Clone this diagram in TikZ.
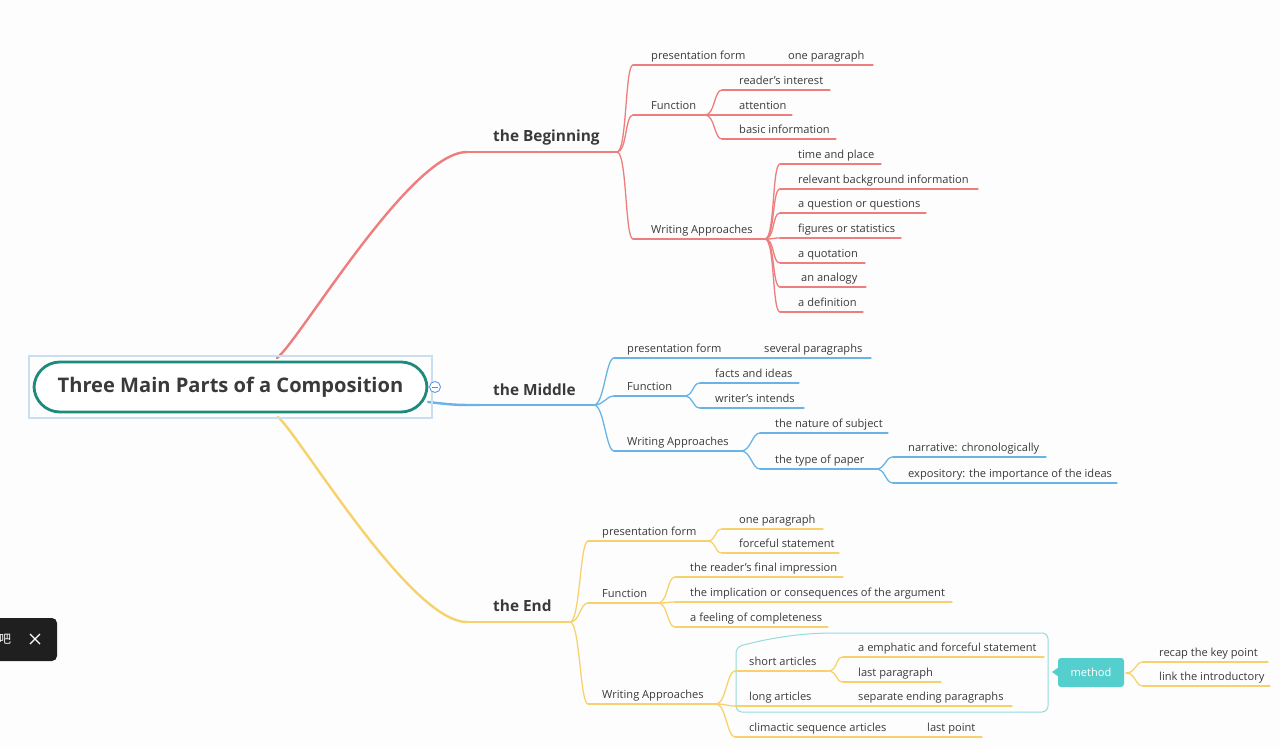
\documentclass[tikz,border=0pt]{standalone}
\usepackage{fontspec}
\setmainfont{Open Sans}
\newfontfamily\cjk{Noto Sans CJK SC}
\definecolor{cR}{HTML}{EE7D7D}
\definecolor{cB}{HTML}{68B4E6}
\definecolor{cY}{HTML}{F7D26C}
\definecolor{cT}{HTML}{1E8A7C}
\definecolor{cM}{HTML}{55CFCD}
\definecolor{cBnd}{HTML}{93DCDA}
\definecolor{cSel}{HTML}{C9DFF1}
\definecolor{cTx}{HTML}{3A3A3A}
\definecolor{cToast}{HTML}{1F1F1F}
\definecolor{cBg}{HTML}{FDFDFD}
\tikzset{
  lbl/.style={inner sep=0pt, text=cTx, font=\fontsize{11.1}{13}\selectfont},
  brl/.style={inner sep=0pt, text=cTx, font=\fontsize{15.4}{17}\selectfont\bfseries},
  sub/.style={line width=1.3pt, line cap=round},
  mainbr/.style={line width=2.4pt, line cap=round},
  rootbox/.style={draw=cT, line width=2.8pt, fill=white, rounded corners=26pt,
    minimum width=393pt, minimum height=50pt, inner sep=0pt,
    text=cTx, font=\fontsize{20.1}{24}\selectfont\bfseries},
  methodbox/.style={fill=cM, rounded corners=3pt, minimum width=66pt, minimum height=29pt,
    inner sep=0pt, text=white, font=\fontsize{11.1}{13}\selectfont},
}
\newcommand\tp[7]{%
  \coordinate (#1-s) at (#3,#5);
  \coordinate (#1-e) at (#6,#5);
  \node[lbl,anchor=base west] (#1) at (#4,#5-5.5) {#7};
  \draw[#2,sub] (#1-s) -- (#1-e);}
\newcommand\fk[3]{\draw[#1,sub] (#2) .. controls +(10,0) and +(-8,0) .. (#3);}
\begin{document}
\begin{tikzpicture}[x=1pt,y=-1pt]
\useasboundingbox (0,0) rectangle (1280,749);
\fill[cBg] (0,0) rectangle (1280,749);

% ---------- main branches ----------
\coordinate (rtop) at (277,358);
\coordinate (rbot) at (278,417);
\coordinate (rright) at (428,402);
\coordinate (bstart) at (467,152);
\coordinate (bfork) at (617,152);
\coordinate (mstart) at (480,405);
\coordinate (mfork) at (594,405);
\coordinate (estart) at (467,622);
\coordinate (efork) at (570,622);
\draw[cR,mainbr] (rtop) .. controls (300,340) and (410,152) .. (bstart);
\draw[cR,line width=1.8pt] (bstart) -- (bfork);
\draw[cB,mainbr] (rright) .. controls (455,405) .. (mstart);
\draw[cB,line width=1.8pt] (mstart) -- (mfork);
\draw[cY,mainbr] (rbot) .. controls (300,436) and (410,622) .. (estart);
\draw[cY,line width=1.8pt] (estart) -- (efork);

\node[brl,anchor=base west] (beg) at (493,141.5) {the Beginning};
\node[brl,anchor=base west] (mid) at (493,395) {the Middle};
\node[brl,anchor=base west] (end) at (493,611.5) {the End};

% ---------- root ----------
\draw[cSel,line width=1.3pt] (29,356) rectangle (432,418);
\node[rootbox] (root) at (230.5,387) {Three Main Parts of a Composition};
\node[circle,draw=cB!80!blue,line width=0.8pt,fill=white,inner sep=0pt,minimum size=11pt] (col) at (435,387) {};
\draw[cB!80!blue,line width=0.8pt] ([xshift=-3pt]col.center) -- ([xshift=3pt]col.center);

% ---------- the Beginning ----------
\tp{bpf}{cR}{633}{651}{65}{775}{presentation form}
\tp{bop}{cR}{775}{788}{65}{873}{one paragraph}
\tp{bfn}{cR}{633}{651}{115}{705}{Function}
\tp{bri}{cR}{722}{739}{90}{830}{reader's interest}
\tp{bat}{cR}{722}{739}{115}{792}{attention}
\tp{bbi}{cR}{722}{739}{139}{836}{basic information}
\tp{bwa}{cR}{633}{651}{239}{765}{Writing Approaches}
\tp{b1}{cR}{780}{798}{164}{881}{time and place}
\tp{b2}{cR}{780}{798}{189}{978}{relevant background information}
\tp{b3}{cR}{780}{798}{213}{926}{a question or questions}
\tp{b4}{cR}{780}{798}{238}{901}{figures or statistics}
\tp{b5}{cR}{780}{798}{263}{865}{a quotation}
\tp{b6}{cR}{780}{801}{287}{866}{an analogy}
\tp{b7}{cR}{780}{798}{312}{863}{a definition}
\fk{cR}{bfork}{bpf-s}\fk{cR}{bfork}{bfn-s}\fk{cR}{bfork}{bwa-s}
\fk{cR}{bfn-e}{bri-s}\fk{cR}{bfn-e}{bat-s}\fk{cR}{bfn-e}{bbi-s}
\fk{cR}{bwa-e}{b1-s}\fk{cR}{bwa-e}{b2-s}\fk{cR}{bwa-e}{b3-s}\fk{cR}{bwa-e}{b4-s}
\fk{cR}{bwa-e}{b5-s}\fk{cR}{bwa-e}{b6-s}\fk{cR}{bwa-e}{b7-s}

% ---------- the Middle ----------
\tp{mpf}{cB}{614}{627}{358}{752}{presentation form}
\tp{msp}{cB}{752}{764}{358}{871}{several paragraphs}
\tp{mfn}{cB}{614}{627}{396}{684}{Function}
\tp{mfi}{cB}{700}{715}{383}{799}{facts and ideas}
\tp{mwi}{cB}{700}{715}{408}{804}{writer's intends}
\tp{mwa}{cB}{614}{627}{451}{741}{Writing Approaches}
\tp{mns}{cB}{760}{775}{433}{888}{the nature of subject}
\tp{mtp}{cB}{760}{775}{469}{876}{the type of paper}
\tp{mnc}{cB}{893}{908}{457}{1046}{narrative: chronologically}
\tp{mex}{cB}{893}{908}{483}{1117}{expository: the importance of the ideas}
\fk{cB}{mfork}{mpf-s}\fk{cB}{mfork}{mfn-s}\fk{cB}{mfork}{mwa-s}
\fk{cB}{mfn-e}{mfi-s}\fk{cB}{mfn-e}{mwi-s}
\fk{cB}{mwa-e}{mns-s}\fk{cB}{mwa-e}{mtp-s}
\fk{cB}{mtp-e}{mnc-s}\fk{cB}{mtp-e}{mex-s}

% ---------- the End ----------
\draw[cBnd,line width=1pt,rounded corners=6pt] (736,712) -- (736,647) .. controls (770,638) and (800,633) .. (840,633) -- (1048,633) -- (1048,712) -- cycle;
\tp{epf}{cY}{588}{602}{541}{707}{presentation form}
\tp{eop}{cY}{722}{739}{529}{823}{one paragraph}
\tp{efs}{cY}{722}{739}{553}{839}{forceful statement}
\tp{efn}{cY}{588}{602}{603}{658}{Function}
\tp{erf}{cY}{675}{690}{577}{843}{the reader's final impression}
\tp{eim}{cY}{675}{690}{602}{952}{the implication or consequences of the argument}
\tp{efc}{cY}{675}{690}{627}{828}{a feeling of completeness}
\tp{ewa}{cY}{588}{602}{704}{716}{Writing Approaches}
\tp{esa}{cY}{735}{749}{671}{828}{short articles}
\tp{eem}{cY}{843}{858}{657}{1044}{a emphatic and forceful statement}
\tp{elp}{cY}{843}{858}{682}{941}{last paragraph}
\tp{ela}{cY}{735}{749}{706}{845}{long articles}
\tp{ese}{cY}{845}{858}{706}{1012}{separate ending paragraphs}
\tp{ecs}{cY}{735}{749}{737}{915}{climactic sequence articles}
\tp{elt}{cY}{915}{927}{737}{982}{last point}
\fk{cY}{efork}{epf-s}\fk{cY}{efork}{efn-s}\fk{cY}{efork}{ewa-s}
\fk{cY}{epf-e}{eop-s}\fk{cY}{epf-e}{efs-s}
\fk{cY}{efn-e}{erf-s}\fk{cY}{efn-e}{eim-s}\fk{cY}{efn-e}{efc-s}
\fk{cY}{ewa-e}{esa-s}\fk{cY}{ewa-e}{ela-s}\fk{cY}{ewa-e}{ecs-s}
\fk{cY}{esa-e}{eem-s}\fk{cY}{esa-e}{elp-s}

% method callout
\node[methodbox] (method) at (1091,672.5) {method};
\fill[cM] (1052,672) -- (1059,667) -- (1059,677) -- cycle;
\tp{mrk}{cY}{1143}{1159}{662}{1268}{recap the key point}
\tp{mli}{cY}{1143}{1159}{686}{1270}{link the introductory}
\coordinate (mout) at (1126,673);
\fk{cY}{mout}{mrk-s}\fk{cY}{mout}{mli-s}

% ---------- toast ----------
\fill[cToast,rounded corners=5pt] (-10,618) rectangle (57,661);
\node[inner sep=0pt,text=white,font=\cjk\fontsize{12}{14}\selectfont] (toast) at (5,639) {吧};
\coordinate (xa) at (30,634);\coordinate (xb) at (40,644);
\coordinate (xc) at (40,634);\coordinate (xd) at (30,644);
\draw[white,line width=1.2pt] (xa) -- (xb);
\draw[white,line width=1.2pt] (xc) -- (xd);
\end{tikzpicture}
\end{document}
